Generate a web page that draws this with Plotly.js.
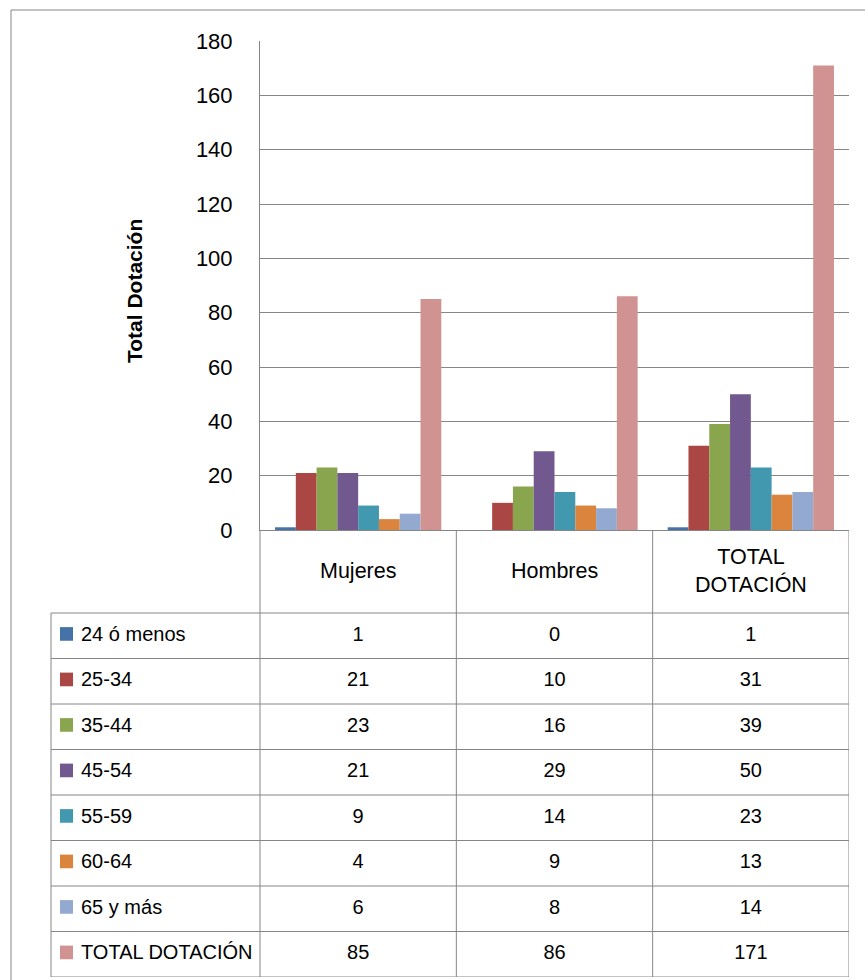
<!DOCTYPE html>
<html>
<head>
<meta charset="utf-8">
<script src="https://cdn.plot.ly/plotly-3.0.1.min.js"></script>
<style>html,body{margin:0;padding:0;background:#fff;}#chart{width:865px;height:980px;}</style>
</head>
<body>
<div id="chart"></div>
<script>
// ---- data ----
const categories = ['Mujeres', 'Hombres', 'TOTAL DOTACIÓN'];
const categoryLabels = ['Mujeres', 'Hombres', 'TOTAL<br>DOTACIÓN'];
const seriesNames = ['24 ó menos', '25-34', '35-44', '45-54', '55-59', '60-64', '65 y más', 'TOTAL DOTACIÓN'];
const v24menos = [1, 0, 1];
const v25_34 = [21, 10, 31];
const v35_44 = [23, 16, 39];
const v45_54 = [21, 29, 50];
const v55_59 = [9, 14, 23];
const v60_64 = [4, 9, 13];
const v65mas = [6, 8, 14];
const vTotal = [85, 86, 171];
const yTicks = [0, 20, 40, 60, 80, 100, 120, 140, 160, 180];
const seriesValues = [v24menos, v25_34, v35_44, v45_54, v55_59, v60_64, v65mas, vTotal];
const colors = ['#4572A7', '#AA4643', '#89A54E', '#71588F', '#4198AF', '#DB843D', '#93A9CF', '#D19392'];

// ---- geometry (pixels) ----
const W = 865, H = 980;
const px = v => v / W;
const py = v => 1 - v / H;
const TABLE_L = 51, PLOT_L = 260, PLOT_R = 849, PLOT_T = 41, AXIS_Y = 530, HEAD_B = 613, TABLE_B = 977;
const GRID = '#868686';
const FONT = 'Liberation Sans, Arial, sans-serif';

const traces = [];
seriesNames.forEach((name, i) => {
  traces.push({
    type: 'bar', name: name, x: categories, y: seriesValues[i],
    marker: {color: colors[i], line: {width: 0}},
    xaxis: 'x', yaxis: 'y', showlegend: false, hoverinfo: 'x+y+name'
  });
});

// table cell values
const tx = [], ty = [], tt = [];
seriesNames.forEach((name, i) => {
  categories.forEach((c, j) => {
    tx.push(c); ty.push(name); tt.push(String(seriesValues[i][j]));
  });
});
traces.push({
  type: 'scatter', mode: 'text', x: tx, y: ty, text: tt,
  textfont: {family: FONT, size: 20, color: '#000'},
  xaxis: 'x', yaxis: 'y2', showlegend: false, hoverinfo: 'skip', cliponaxis: false
});

const shapes = [];
const L = (x0, y0, x1, y1, xref, yref, w) => shapes.push({
  type: 'line', x0, y0, x1, y1, xref: xref || 'paper', yref: yref || 'paper',
  line: {color: GRID, width: w || 1}, layer: 'above'
});
// outer frame
L(px(11), py(10), px(11), py(H + 5));
L(px(11), py(10), px(W + 5), py(10));
// table verticals
L(px(TABLE_L), py(HEAD_B), px(TABLE_L), py(TABLE_B));
L(px(PLOT_L), py(AXIS_Y), px(PLOT_L), py(TABLE_B));
for (let j = 0; j < categories.length; j++) {
  L(j + 0.5, py(AXIS_Y), j + 0.5, py(TABLE_B), 'x', 'paper');
}
// table horizontals
L(px(TABLE_L), py(HEAD_B), px(PLOT_R), py(HEAD_B));
for (let i = 0; i < seriesNames.length; i++) {
  L(px(TABLE_L), i + 0.5, px(PLOT_R), i + 0.5, 'paper', 'y2');
}
// legend swatches
seriesNames.forEach((name, i) => {
  shapes.push({type: 'rect', xref: 'paper', yref: 'y2', x0: px(60), x1: px(73),
    y0: i - 0.19, y1: i + 0.11, fillcolor: colors[i], line: {width: 0}, layer: 'above'});
});

const annotations = [];
seriesNames.forEach((name, i) => {
  annotations.push({xref: 'paper', yref: 'y2', x: px(79), y: i - 0.04, text: name,
    xanchor: 'left', yanchor: 'middle', showarrow: false,
    font: {family: FONT, size: 20, color: '#000'}});
});
categoryLabels.forEach((lab, j) => {
  annotations.push({xref: 'x', yref: 'paper', x: j, y: py((AXIS_Y + HEAD_B) / 2 - 1), text: lab,
    xanchor: 'center', yanchor: 'middle', showarrow: false,
    font: {family: FONT, size: 21.5, color: '#000'}});
});
annotations.push({xref: 'paper', yref: 'paper', x: px(134), y: py(291), text: '<b>Total Dotación</b>',
  textangle: -90, xanchor: 'center', yanchor: 'middle', showarrow: false,
  font: {family: FONT, size: 21, color: '#000'}});

const layout = {
  width: W, height: H,
  margin: {l: 0, r: 0, t: 0, b: 0, pad: 0},
  paper_bgcolor: '#fff', plot_bgcolor: 'rgba(0,0,0,0)',
  barmode: 'group', bargap: 0.153, bargroupgap: 0,
  showlegend: false,
  xaxis: {
    domain: [px(PLOT_L), px(PLOT_R)], anchor: 'y', type: 'category',
    categoryorder: 'array', categoryarray: categories, range: [-0.5, 2.5],
    showline: true, linecolor: GRID, linewidth: 1, showgrid: false, zeroline: false,
    showticklabels: false, ticks: '', fixedrange: true
  },
  yaxis: {
    domain: [py(AXIS_Y), py(PLOT_T)], anchor: 'x', range: [0, 180],
    tickvals: yTicks, ticktext: yTicks.map(String),
    showgrid: true, gridcolor: GRID, gridwidth: 1, zeroline: false,
    showline: true, linecolor: GRID, linewidth: 1, ticks: '', ticklabelstandoff: 22,
    tickfont: {family: FONT, size: 22, color: '#000'}, fixedrange: true
  },
  yaxis2: {
    domain: [py(TABLE_B), py(HEAD_B)], anchor: 'x', type: 'category',
    categoryorder: 'array', categoryarray: seriesNames,
    range: [seriesNames.length - 0.5, -0.5],
    showgrid: false, zeroline: false, showline: false, showticklabels: false, ticks: '',
    fixedrange: true
  },
  shapes: shapes,
  annotations: annotations
};

Plotly.newPlot('chart', traces, layout, {displayModeBar: false, staticPlot: true});
</script>
</body>
</html>
